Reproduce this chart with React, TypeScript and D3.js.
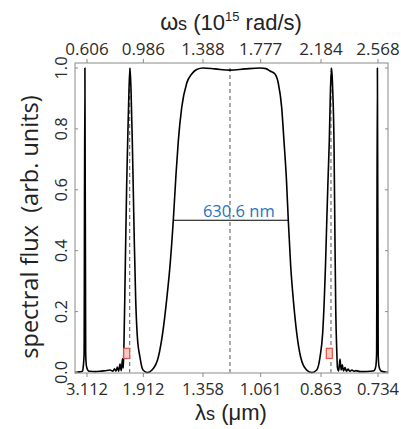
import React from "react";
import * as d3 from "d3";

const WIDTH = 401;
const HEIGHT = 429;
const FRAME = { left: 75, right: 388, top: 63, bottom: 373 };
const FONT = "'Open Sans', sans-serif";
const TITLE_FONT = "'Liberation Sans', Arial, sans-serif";

// ω axis (10^15 rad/s) ticks, with the matching wavelengths (µm) on the bottom axis
const OMEGA_TICKS = [0.606, 0.986, 1.388, 1.777, 2.184, 2.568];
const OMEGA_LABELS = ["0.606", "0.986", "1.388", "1.777", "2.184", "2.568"];
const LAMBDA_LABELS = ["3.112", "1.912", "1.358", "1.061", "0.863", "0.734"];
const FLUX_TICKS = [0, 0.2, 0.4, 0.6, 0.8, 1.0];
const OMEGA_DOMAIN = [0.5251, 2.6355];

// spectrum
const SPECTRUM_OMEGA = [
  0.5251, 0.559, 0.575, 0.581, 0.5864, 0.5919, 0.5972, 0.6026, 0.6161, 0.6262,
  0.6599, 0.6936, 0.7274, 0.7611, 0.7813, 0.7914, 0.8015, 0.8103, 0.8191, 0.8285,
  0.8373, 0.8453, 0.8507, 0.8555, 0.8609, 0.8669, 0.8737, 0.8804, 0.8892, 0.8959,
  0.9027, 0.9114, 0.9181, 0.9249, 0.9343, 0.9451, 0.9633, 0.9836, 1.0139, 1.0442,
  1.0867, 1.1164, 1.1434, 1.1656, 1.1879, 1.2061, 1.2216, 1.2445, 1.2782, 1.3119,
  1.3456, 1.3881, 1.469, 1.5701, 1.6713, 1.7724, 1.8129, 1.8398, 1.8735, 1.8958,
  1.9187, 1.9342, 1.9511, 1.9632, 1.9794, 1.9969, 2.0199, 2.0468, 2.0873, 2.123,
  2.1547, 2.1769, 2.1951, 2.2059, 2.214, 2.2228, 2.2309, 2.2397, 2.2477, 2.2558,
  2.2625, 2.2713, 2.278, 2.2834, 2.2895, 2.2949, 2.303, 2.3118, 2.3199, 2.3273,
  2.3354, 2.3455, 2.3556, 2.3657, 2.3792, 2.3927, 2.4062, 2.4197, 2.4467, 2.4804,
  2.5141, 2.5411, 2.5532, 2.5586, 2.564, 2.5694, 2.5748, 2.5883, 2.6355,
];
const SPECTRUM_FLUX = [
  0.0, 0.002, 0.004, 0.02, 0.06, 1.0, 0.06, 0.02, 0.005, 0.004,
  0.003, 0.004, 0.006, 0.008, 0.004, 0.012, 0.004, 0.018, 0.004, 0.028,
  0.006, 0.045, 0.015, 0.1, 0.25, 0.43, 0.62, 0.76, 0.93, 1.0,
  0.93, 0.76, 0.6, 0.43, 0.24, 0.12, 0.05, 0.008, 0.0, 0.008,
  0.05, 0.13, 0.24, 0.35, 0.5, 0.65, 0.76, 0.87, 0.95, 0.98,
  0.995, 1.0, 0.997, 0.993, 0.997, 1.0, 0.998, 0.99, 0.98, 0.95,
  0.87, 0.76, 0.63, 0.5, 0.35, 0.24, 0.13, 0.05, 0.008, 0.0,
  0.008, 0.05, 0.13, 0.24, 0.35, 0.5, 0.63, 0.76, 0.93, 1.0,
  0.93, 0.76, 0.43, 0.2, 0.08, 0.015, 0.005, 0.044, 0.008, 0.025,
  0.005, 0.016, 0.004, 0.011, 0.004, 0.008, 0.004, 0.006, 0.003, 0.003,
  0.004, 0.006, 0.02, 0.06, 1.0, 0.06, 0.02, 0.005, 0.0,
];

const DASHED_OMEGA = [0.894, 1.57, 2.251];
const FWHM_FROM = 1.1879;
const FWHM_TO = 1.9632;
const FWHM_LEVEL = 0.5;
const FWHM_LABEL = "630.6 nm";
const MARKER_OMEGA = [0.8737, 2.2397];
const MARKER_FLUX = [0.046, 0.0795];

export default function App() {
  const x = d3.scaleLinear().domain(OMEGA_DOMAIN).range([FRAME.left, FRAME.right]);
  const y = d3.scaleLinear().domain([0, 1]).range([372.5, 68]);

  const points: [number, number][] = SPECTRUM_OMEGA.map((w, i) => [w, SPECTRUM_FLUX[i]]);
  const line = d3
    .line<[number, number]>()
    .x((d) => x(d[0]))
    .y((d) => y(d[1]))
    .curve(d3.curveMonotoneX);

  const grey = "#8a8a8a";
  const tickText = "#2b2b2b";

  return (
    <div style={{ position: "absolute", left: 0, top: 0 }}>
      <svg width={WIDTH} height={HEIGHT} style={{ display: "block", fontFamily: FONT }}>
        <rect width={WIDTH} height={HEIGHT} fill="white" />

        {/* dashed guides */}
        {DASHED_OMEGA.map((w, i) => (
          <line
            key={i}
            x1={x(w)}
            x2={x(w)}
            y1={y(1)}
            y2={y(0)}
            stroke="#555"
            strokeWidth={1}
            strokeDasharray="4,3"
          />
        ))}

        {/* spectrum */}
        <path d={line(points) ?? ""} fill="none" stroke="#000" strokeWidth={1.6} strokeLinejoin="round" />

        {/* FWHM bar */}
        <line x1={x(FWHM_FROM)} x2={x(FWHM_TO)} y1={y(FWHM_LEVEL)} y2={y(FWHM_LEVEL)} stroke="#000" strokeWidth={1} />
        <text x={(x(FWHM_FROM) + x(FWHM_TO)) / 2 + 8} y={y(FWHM_LEVEL) - 3} textAnchor="middle" fill="#1f74c2" fontSize={16.5}>
          {FWHM_LABEL}
        </text>

        {/* red markers */}
        {MARKER_OMEGA.map((w, i) => (
          <rect
            key={i}
            x={x(w) - 3}
            width={6}
            y={y(MARKER_FLUX[1])}
            height={y(MARKER_FLUX[0]) - y(MARKER_FLUX[1])}
            fill="#f6c9c4"
            stroke="#e5553f"
            strokeWidth={1.2}
          />
        ))}

        {/* frame */}
        <rect
          x={FRAME.left}
          y={FRAME.top}
          width={FRAME.right - FRAME.left}
          height={FRAME.bottom - FRAME.top}
          fill="none"
          stroke={grey}
          strokeWidth={1}
        />

        {/* ω ticks on top, λ ticks on the bottom */}
        {OMEGA_TICKS.map((w, i) => (
          <g key={i}>
            <line x1={x(w)} x2={x(w)} y1={FRAME.top} y2={FRAME.top - 4} stroke={grey} />
            <text x={x(w)} y={55} textAnchor="middle" fontSize={17} fill={tickText}>
              {OMEGA_LABELS[i]}
            </text>
            <line x1={x(w)} x2={x(w)} y1={FRAME.bottom} y2={FRAME.bottom + 4} stroke={grey} />
            <text x={x(w)} y={394.5} textAnchor="middle" fontSize={16.5} fill={tickText}>
              {LAMBDA_LABELS[i]}
            </text>
          </g>
        ))}

        {/* flux ticks */}
        {FLUX_TICKS.map((v, i) => (
          <g key={i}>
            <line x1={FRAME.left} x2={FRAME.left + 3} y1={y(v)} y2={y(v)} stroke={grey} />
            <line x1={FRAME.right} x2={FRAME.right - 3} y1={y(v)} y2={y(v)} stroke={grey} />
            <text
              transform={`translate(67,${y(v)}) rotate(-90)`}
              textAnchor="middle"
              fontSize={16.5}
              fill={tickText}
            >
              {v.toFixed(1)}
            </text>
          </g>
        ))}

        {/* axis titles */}
        <text x={231} y={30} textAnchor="middle" fontSize={22} fill="#222" fontFamily={TITLE_FONT}>
          <tspan fontSize={23}>ω</tspan>
          <tspan fontSize={18}>s</tspan>
          <tspan> (10</tspan>
          <tspan fontSize={13} dy={-9}>15</tspan>
          <tspan dy={9}> rad/s)</tspan>
        </text>
        <text x={231} y={419.5} textAnchor="middle" fontSize={22} fill="#222" fontFamily={TITLE_FONT}>
          <tspan>λ</tspan>
          <tspan fontSize={18}>s</tspan>
          <tspan> (μm)</tspan>
        </text>
        <text
          transform="translate(38,227) rotate(-90)"
          textAnchor="middle"
          fontSize={23.5}
          fill="#222"
          style={{ whiteSpace: "pre" }}
        >
          spectral flux  (arb. units)
        </text>
      </svg>
    </div>
  );
}
